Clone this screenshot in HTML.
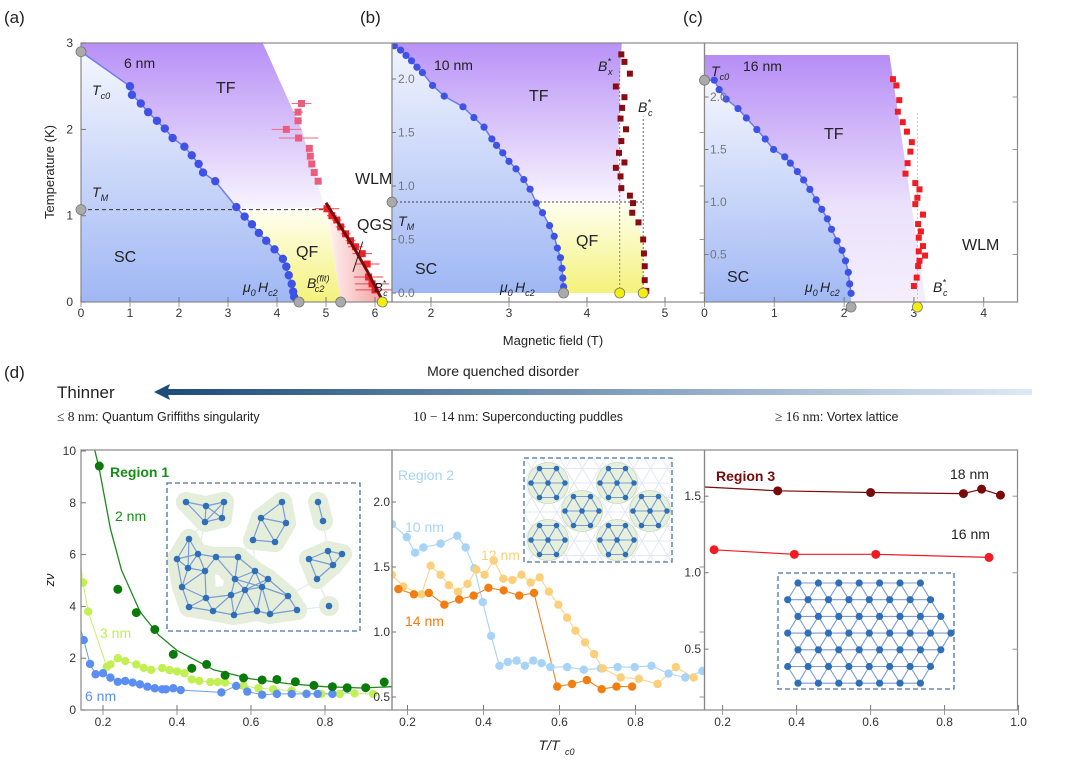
<!DOCTYPE html>
<html><head><meta charset="utf-8"><style>
html,body{margin:0;padding:0;background:#fff;}
svg{display:block;font-family:"Liberation Sans",sans-serif;}
text{font-family:"Liberation Sans",sans-serif;}
</style></head><body>
<svg id="fig" width="1080" height="772" viewBox="0 0 1080 772" xmlns="http://www.w3.org/2000/svg">
<defs>
<linearGradient id="gPurple" x1="0" y1="0" x2="0" y2="1"><stop offset="0" stop-color="#b68df6"/><stop offset="1" stop-color="#f8f5fe"/></linearGradient>
<linearGradient id="gPurpleC" x1="0" y1="0" x2="0" y2="1"><stop offset="0" stop-color="#b68df6"/><stop offset="0.6" stop-color="#ebe1fc"/><stop offset="1" stop-color="#f5effc"/></linearGradient>
<linearGradient id="gBlue" x1="0" y1="0" x2="0" y2="1"><stop offset="0" stop-color="#f4f6fe"/><stop offset="1" stop-color="#9fb7f4"/></linearGradient>
<linearGradient id="gYellow" x1="0" y1="0" x2="0" y2="1"><stop offset="0" stop-color="#fffff2"/><stop offset="1" stop-color="#f4f27a"/></linearGradient>
<linearGradient id="gPink" x1="0" y1="0" x2="1" y2="0"><stop offset="0" stop-color="#fff4f4"/><stop offset="1" stop-color="#f39c9c"/></linearGradient>
<linearGradient id="gArrow" x1="0" y1="0" x2="1" y2="0"><stop offset="0" stop-color="#1e4c78"/><stop offset="1" stop-color="#dde9f6"/></linearGradient>
<clipPath id="clipA"><rect x="81" y="43" width="311" height="259"/></clipPath>
<clipPath id="clipB"><rect x="392" y="43" width="312.5" height="259"/></clipPath>
<clipPath id="clipC"><rect x="704.5" y="43" width="313" height="259"/></clipPath>
<clipPath id="clipD1"><rect x="81" y="450" width="311" height="260"/></clipPath>
<clipPath id="clipD2"><rect x="392" y="450" width="312.5" height="260"/></clipPath>
<clipPath id="clipD3"><rect x="704.5" y="450" width="313" height="260"/></clipPath>
<clipPath id="clipIns2"><rect x="524" y="458" width="148" height="104"/></clipPath>
</defs>
</svg>
<script>
// ===== Panel (a) 6 nm data =====
const aBlueB=[1.0,1.04,1.22,1.37,1.55,1.71,1.87,2.11,2.26,2.40,2.49,2.74,3.17,3.34,3.49,3.63,3.78,3.95,4.12,4.19,4.24,4.30,4.33,4.35];
const aBlueT=[2.5,2.40,2.30,2.20,2.10,2.01,1.90,1.80,1.70,1.60,1.50,1.40,1.10,0.99,0.90,0.80,0.71,0.61,0.50,0.41,0.31,0.21,0.12,0.06];
const aRedUpB=[4.5,4.43,4.43,4.19,4.44,4.66,4.68,4.71,4.76,4.84];
const aRedUpT=[2.3,2.2,2.1,2.0,1.9,1.78,1.69,1.6,1.5,1.4];
const aRedUpErr=[0.2,0.1,0.08,0.3,0.4,0,0,0,0,0];
const aRedLoB=[5.02,5.12,5.22,5.3,5.4,5.5,5.6,5.74,5.84,5.87,5.94,6.0];
const aRedLoT=[1.08,1.0,0.95,0.87,0.79,0.71,0.64,0.56,0.44,0.29,0.21,0.14];
const aRedLoErr=[0.25,0.1,0.1,0.1,0.1,0.1,0.15,0.2,0.25,0.3,0.35,0.4];
const aQgsB=[5.0,5.3,5.6,5.85,6.05,6.15];
const aQgsT=[1.15,0.87,0.6,0.35,0.13,0.02];
const aTc0=2.9, aTM=1.07, aHc2=4.45, aFit=5.3, aBc=6.15;
const aTicksX=[0,1,2,3,4,5,6], aTicksY=[0,1,2,3];
// ===== Panel (b) 10 nm data =====
const bBlueB=[1.53,1.61,1.68,1.75,1.82,1.89,2.02,2.17,2.41,2.55,2.68,2.78,2.84,2.92,3.0,3.09,3.19,3.27,3.35,3.43,3.52,3.58,3.62,3.66,3.68,3.69,3.70];
const bBlueT=[2.31,2.27,2.22,2.17,2.11,2.06,1.94,1.84,1.74,1.64,1.55,1.44,1.38,1.31,1.23,1.16,1.06,0.97,0.84,0.75,0.63,0.53,0.42,0.33,0.23,0.14,0.06];
const bRedB=[4.44,4.48,4.55,4.37,4.48,4.45,4.43,4.5,4.44,4.41,4.48,4.37,4.43,4.44,4.55,4.59,4.58,4.66,4.72,4.73,4.74,4.74,4.76];
const bRedT=[2.23,2.16,2.05,1.93,1.83,1.73,1.63,1.53,1.42,1.31,1.22,1.17,1.09,0.98,0.91,0.84,0.75,0.66,0.5,0.37,0.25,0.12,0.02];
const bTM=0.85, bHc2=3.7, bBx=4.42, bBc=4.72;
const bTicksX=[2,3,4,5], bTicksY=[0,0.5,1.0,1.5,2.0];
// ===== Panel (c) 16 nm data =====
const cBlueB=[0.14,0.21,0.31,0.48,0.6,0.75,0.87,0.99,1.15,1.23,1.33,1.42,1.51,1.6,1.68,1.76,1.82,1.9,1.97,2.02,2.06,2.08,2.1];
const cBlueT=[2.16,2.07,1.98,1.89,1.8,1.69,1.6,1.5,1.43,1.37,1.29,1.21,1.12,1.02,0.93,0.84,0.74,0.63,0.54,0.44,0.33,0.22,0.13];
const cRedB=[2.7,2.75,2.79,2.77,2.84,2.9,2.97,2.95,2.91,2.88,3.02,3.08,3.05,3.02,3.13,3.06,3.1,3.07,3.13,3.07,3.16,3.08,3.06,3.04,3.0];
const cRedT=[2.17,2.11,1.97,1.86,1.76,1.67,1.57,1.48,1.37,1.27,1.18,1.12,1.04,0.98,0.88,0.79,0.72,0.66,0.58,0.53,0.49,0.44,0.39,0.28,0.2];
const cTc0=2.16, cHc2=2.1, cBc=3.05;
const cTicksX=[0,1,2,3,4], cTicksY=[0.5,1.0,1.5,2.0];
// ===== Panel (d) region 1 =====
const d1G2x=[0.19,0.24,0.29,0.34,0.39,0.44,0.48,0.53,0.58,0.63,0.67,0.72,0.77,0.82,0.86,0.91,0.96];
const d1G2v=[9.42,4.66,3.76,3.11,2.15,1.61,1.76,1.34,1.24,1.16,1.18,1.09,0.95,0.9,0.86,0.86,1.08];
const d1FitX=[0.17,0.19,0.22,0.25,0.30,0.35,0.40,0.50,0.60,0.70,0.80,0.90,0.98];
const d1FitV=[10.5,9.3,7.0,5.4,3.8,2.9,2.3,1.55,1.2,1.02,0.9,0.85,0.9];
const d1G3x=[0.146,0.16,0.21,0.22,0.24,0.26,0.29,0.31,0.33,0.36,0.38,0.40,0.42,0.44,0.46,0.49,0.51,0.53,0.58,0.62,0.66,0.71,0.75,0.79,0.84,0.88,0.93];
const d1G3v=[4.92,3.8,1.67,1.76,2.0,1.89,1.76,1.63,1.55,1.62,1.54,1.49,1.42,1.18,1.12,1.08,1.08,1.06,0.94,0.84,0.80,0.75,0.64,0.62,0.62,0.64,0.62];
const d1B6x=[0.148,0.165,0.18,0.2,0.22,0.24,0.26,0.28,0.30,0.32,0.34,0.36,0.37,0.39,0.41,0.52,0.56,0.59,0.63,0.67,0.71,0.75,0.78,0.82,0.86];
const d1B6v=[2.7,1.78,1.38,1.42,1.25,1.09,1.12,1.06,0.99,0.9,0.84,0.8,0.8,0.84,0.77,0.68,0.93,0.71,0.59,0.62,0.62,0.62,0.62,0.62,0.82];
const d1TicksY=[0,2,4,6,8,10], dTicksX=[0.2,0.4,0.6,0.8];
// ===== Panel (d) region 2 =====
const d2N10x=[0.159,0.198,0.22,0.242,0.287,0.331,0.353,0.376,0.398,0.42,0.442,0.464,0.487,0.509,0.531,0.553,0.576,0.62,0.664,0.709,0.753,0.798,0.842,0.887,0.931,0.976];
const d2N10v=[1.83,1.73,1.61,1.65,1.68,1.74,1.65,1.49,1.23,0.97,0.74,0.77,0.78,0.74,0.78,0.76,0.73,0.73,0.71,0.72,0.73,0.73,0.74,0.68,0.65,0.70];
const d2N12x=[0.159,0.189,0.237,0.261,0.287,0.309,0.333,0.358,0.381,0.403,0.427,0.452,0.476,0.5,0.524,0.548,0.572,0.597,0.62,0.642,0.667,0.691,0.714,0.761,0.809,0.858,0.906,0.953];
const d2N12v=[1.44,1.35,1.29,1.51,1.44,1.36,1.31,1.37,1.48,1.44,1.55,1.41,1.40,1.44,1.38,1.42,1.31,1.21,1.11,1.01,0.92,0.83,0.72,0.65,0.64,0.6,0.73,0.65];
const d2N14x=[0.176,0.217,0.256,0.297,0.336,0.374,0.413,0.453,0.494,0.533,0.594,0.633,0.672,0.711,0.75,0.791];
const d2N14v=[1.33,1.29,1.30,1.21,1.25,1.28,1.34,1.32,1.28,1.30,0.58,0.60,0.63,0.56,0.58,0.58];
const d2TicksY=[0.5,1.0,1.5,2.0];
// ===== Panel (d) region 3 =====
const d3N18x=[0.152,0.349,0.6,0.851,0.9,0.951];
const d3N18v=[1.56,1.535,1.524,1.517,1.546,1.507];
const d3N16x=[0.177,0.394,0.614,0.92];
const d3N16v=[1.15,1.12,1.12,1.10];
const d3TicksY=[0.5,1.0,1.5], d3TicksX=[0.2,0.4,0.6,0.8,1.0];

// ===== scales =====
const xA=b=>81+b*49, yA=t=>302-t*86.3;
const xB=b=>431+(b-2)*78, yB=t=>293-t*107;
const xC=b=>704.5+b*69.8, yC=t=>307-t*105;
const xD1=x=>103+(x-0.2)*370, yD1=v=>710-v*25.9;
const xD2=x=>407.5+(x-0.2)*380, yD2=v=>632-(v-1)*130;
const xD3=x=>722.6+(x-0.2)*370, yD3=v=>572.7-(v-1)*153;

const NS='http://www.w3.org/2000/svg';
const svg=document.getElementById('fig');
function mk(tag,attrs,parent){const e=document.createElementNS(NS,tag);for(const k in attrs)e.setAttribute(k,attrs[k]);(parent||svg).appendChild(e);return e;}
function pts(xs,ys,fx,fy){return xs.map((v,i)=>fx(v).toFixed(1)+','+fy(ys[i]).toFixed(1)).join(' ');}
function grp(name,clip){const g=mk('g',clip?{'clip-path':'url(#'+clip+')'}:{});return g;}
function txt(s,x,y,attrs,parent,name){const t=mk('text',Object.assign({x:x,y:y,'font-size':14,fill:'#222'},attrs||{}),parent);t.textContent=s;return t;}
function sub(parent,main,subs,x,y,size,name,sup){const t=mk('text',{x:x,y:y,'font-size':size,fill:'#222','font-style':'italic'},parent);
  const a=mk('tspan',{},t);a.textContent=main;
  if(sup){const s=mk('tspan',{'font-size':size*0.65,dy:-size*0.45},t);s.textContent=sup;const b=mk('tspan',{'font-size':size*0.65,dx:-size*0.35*sup.length*0.6,dy:size*0.75},t);b.textContent=subs;}
  else{const b=mk('tspan',{'font-size':size*0.65,dy:size*0.3},t);b.textContent=subs;}
  return t;}
function circles(parent,xs,ys,fx,fy,r,fill,name,stroke){xs.forEach((v,i)=>{const c=mk('circle',{cx:fx(v),cy:fy(ys[i]),r:r,fill:fill,stroke:stroke||'none','stroke-width':0.8},parent);});}
function squares(parent,xs,ys,fx,fy,s,fill,name){xs.forEach((v,i)=>{const c=mk('rect',{x:fx(v)-s/2,y:fy(ys[i])-s/2,width:s,height:s,fill:fill},parent);});}
function line(parent,xs,ys,fx,fy,color,w,name){const l=mk('polyline',{points:pts(xs,ys,fx,fy),fill:'none',stroke:color,'stroke-width':w,'stroke-linejoin':'round'},parent);return l;}
function poly(parent,str,fill,name){const p=mk('polygon',{points:str,fill:fill},parent);return p;}
function marker(parent,x,y,fill,name){const c=mk('circle',{cx:x,cy:y,r:5,fill:fill,stroke:'#777','stroke-width':0.8},parent);}
function frame(x0,y0,x1,y1,name){const r=mk('rect',{x:x0,y:y0,width:x1-x0,height:y1-y0,fill:'none',stroke:'#888','stroke-width':1.2});}
function xTicks(vals,fx,y0,y1,labelY,name,fmt){const g=grp(name);vals.forEach(v=>{const x=fx(v);mk('line',{x1:x,y1:y1,x2:x,y2:y1-5,stroke:'#777'},g);mk('line',{x1:x,y1:y0,x2:x,y2:y0+5,stroke:'#999'},g);
  const t=txt(fmt?v.toFixed(1):String(v),x,labelY,{'font-size':12,'text-anchor':'middle',fill:'#333'},g,'x-tick-label');});}
function yTicks(vals,fy,x0,x1,labelX,name,anchor,color,fmtd){const g=grp(name);vals.forEach(v=>{const y=fy(v);mk('line',{x1:x0,y1:y,x2:x0+4,y2:y,stroke:'#777'},g);mk('line',{x1:x1,y1:y,x2:x1-5,y2:y,stroke:'#999'},g);
  txt(fmtd?v.toFixed(1):String(v),labelX,y+4,{'font-size':12,'text-anchor':anchor,fill:color||'#333'},g,'y-tick-label');});}
function range(a){return a.map((_,i)=>i);}

// ================= PANEL A =================
(function(){
  const g=grp('panel-a-6nm','clipA');
  let s='81,302 '+xA(0)+','+yA(aTc0)+' '+pts(aBlueB,aBlueT,xA,yA)+' '+xA(aHc2)+','+yA(0);
  poly(g,s,'url(#gBlue)','sc-region');
  const idx=range(aBlueB).filter(i=>aBlueT[i]>=aTM);
  let tf=xA(0)+','+yA(3.05)+' '+xA(3.67)+','+yA(3.05)+' '+xA(4.5)+','+yA(2)+' '+xA(4.97)+','+yA(1.1)+' '+xA(3.24)+','+yA(aTM)+' ';
  tf+=idx.slice().reverse().map(i=>xA(aBlueB[i])+','+yA(aBlueT[i])).join(' ')+' '+xA(0)+','+yA(aTc0);
  poly(g,tf,'url(#gPurple)','tf-region');
  const idq=range(aBlueB).filter(i=>aBlueT[i]<aTM);
  let qf=xA(3.24)+','+yA(aTM)+' '+xA(5.02)+','+yA(aTM)+' '+xA(aFit)+','+yA(0)+' '+xA(aHc2)+','+yA(0)+' '+idq.slice().reverse().map(i=>xA(aBlueB[i])+','+yA(aBlueT[i])).join(' ');
  poly(g,qf,'url(#gYellow)','qf-region');
  poly(g,xA(5.02)+','+yA(1.1)+' '+xA(6.2)+','+yA(0)+' '+xA(aFit)+','+yA(0),'url(#gPink)','qgs-region');
  const dl=mk('line',{x1:xA(0),y1:yA(aTM),x2:xA(5.1),y2:yA(aTM),stroke:'#333','stroke-dasharray':'4,3','stroke-width':1},g);
  
  line(g,[0].concat(aBlueB),[aTc0].concat(aBlueT),xA,yA,'#6a7cf0',1.5,'hc2-curve');
  circles(g,aBlueB,aBlueT,xA,yA,4.2,'#3e52e6','hc2-point');
  aRedUpB.forEach((b,i)=>{if(aRedUpErr[i]>0){const e=mk('line',{x1:xA(b-aRedUpErr[i]),x2:xA(b+aRedUpErr[i]),y1:yA(aRedUpT[i]),y2:yA(aRedUpT[i]),stroke:'#ef6b86','stroke-width':1},g);}});
  aRedLoB.forEach((b,i)=>{const e=mk('line',{x1:xA(b-aRedLoErr[i]),x2:xA(b+aRedLoErr[i]),y1:yA(aRedLoT[i]),y2:yA(aRedLoT[i]),stroke:'#f04050','stroke-width':1},g);});
  squares(g,aRedUpB,aRedUpT,xA,yA,7,'#ec5c7c','bx-point');
  squares(g,aRedLoB,aRedLoT,xA,yA,7,'#ee1f28','bc-point');
  line(g,aQgsB,aQgsT,xA,yA,'#7a0a0a',3,'qgs-fit-line');
  const ar=mk('line',{x1:xA(5.75),y1:yA(0.7),x2:xA(5.55),y2:yA(0.35),stroke:'#222','stroke-width':1},g);
})();
frame(81,43,392,302,'panel-a-frame');
xTicks(aTicksX,xA,302,302,317,'panel-a-x-ticks');
(function(){const g=grp('panel-a-y-ticks');aTicksY.forEach(v=>{const y=yA(v);mk('line',{x1:81,y1:y,x2:86,y2:y,stroke:'#777'},g);txt(String(v),73,y+4,{'font-size':12,'text-anchor':'end',fill:'#333'},g,'y-tick-label');});})();
(function(){const g=grp('panel-a-markers');
  marker(g,xA(0),yA(aTc0),'#aaa','tc0-marker');marker(g,xA(0),yA(aTM),'#aaa','tm-marker');
  marker(g,xA(aHc2),yA(0),'#aaa','hc2-marker');marker(g,xA(aFit),yA(0),'#aaa','bc2-fit-marker');marker(g,xA(aBc),yA(0),'#f4ee10','bc-marker');
  txt('(a)',4,23,{'font-size':17},g,'panel-a-label');
  txt('6 nm',124,68,{'font-size':14},g,'thickness-label');
  txt('TF',216,93,{'font-size':16},g,'tf-label');
  sub(g,'T','c0',92,95,14,'tc0-label');
  sub(g,'T','M',92,197,14,'tm-label');
  txt('SC',114,262,{'font-size':16},g,'sc-label');
  txt('QF',296,257,{'font-size':16},g,'qf-label');
  sub(g,'μ','0',243,292,14,'hc2-label');
  sub(g,'H','c2',258,292,14,'hc2-label-h');
  sub(g,'B','c2',307,288,14,'bc2-fit-label','(fit)');
  txt('WLM',355,184,{'font-size':16},g,'wlm-label');
  txt('QGS',357,230,{'font-size':16},g,'qgs-label');
  sub(g,'B','c',374,292,13,'bc-star-label','*');
})();
// ================= PANEL B =================
(function(){
  const g=grp('panel-b-10nm','clipB');
  poly(g,xB(1.45)+','+yB(0)+' '+xB(1.45)+','+yB(2.4)+' '+pts(bBlueB,bBlueT,xB,yB)+' '+xB(bHc2)+','+yB(0),'url(#gBlue)','sc-region');
  const idx=range(bBlueB).filter(i=>bBlueT[i]>=bTM);
  let tf=xB(1.5)+','+yB(2.4)+' '+xB(4.45)+','+yB(2.4)+' '+xB(4.42)+','+yB(2.0)+' '+xB(4.4)+','+yB(1.2)+' '+xB(4.5)+','+yB(bTM)+' '+xB(3.32)+','+yB(bTM)+' '+idx.slice().reverse().map(i=>xB(bBlueB[i])+','+yB(bBlueT[i])).join(' ')+' '+xB(1.48)+','+yB(2.36);
  poly(g,tf,'url(#gPurple)','tf-region');
  const idq=range(bBlueB).filter(i=>bBlueT[i]<bTM);
  let qf=xB(3.32)+','+yB(bTM)+' '+xB(4.55)+','+yB(bTM)+' '+xB(bBc)+','+yB(0.5)+' '+xB(bBc)+','+yB(0)+' '+xB(bHc2)+','+yB(0)+' '+idq.slice().reverse().map(i=>xB(bBlueB[i])+','+yB(bBlueT[i])).join(' ');
  poly(g,qf,'url(#gYellow)','qf-region');
  const d1=mk('line',{x1:xB(1.5),y1:yB(bTM),x2:xB(bBc),y2:yB(bTM),stroke:'#444','stroke-dasharray':'2,2','stroke-width':1},g);
  const d2=mk('line',{x1:xB(bBx),y1:yB(0),x2:xB(bBx),y2:yB(2.1),stroke:'#666','stroke-dasharray':'2,2','stroke-width':0.8},g);
  const d3=mk('line',{x1:xB(bBc),y1:yB(0),x2:xB(bBc),y2:yB(1.65),stroke:'#444','stroke-dasharray':'2,2','stroke-width':0.8},g);
  line(g,bBlueB,bBlueT,xB,yB,'#6a7cf0',1.5,'hc2-curve');
  circles(g,bBlueB,bBlueT,xB,yB,3.6,'#3e52e6','hc2-point');
  squares(g,bRedB,bRedT,xB,yB,6,'#8a0c10','bx-point');
})();
frame(392,43,704.5,302,'panel-b-frame');
xTicks(bTicksX,xB,302,302,317,'panel-b-x-ticks');
yTicks(bTicksY,yB,392,704.5,398,'panel-b-y-ticks','start','#777',true);
(function(){const g=grp('panel-b-markers');
  marker(g,xB(1.5),yB(bTM),'#aaa','tm-marker');marker(g,xB(bHc2),yB(0),'#aaa','hc2-marker');
  marker(g,xB(bBx),yB(0),'#f4ee10','bx-marker');marker(g,xB(bBc),yB(0),'#f4ee10','bc-marker');
  txt('(b)',360,23,{'font-size':17},g,'panel-b-label');
  txt('10 nm',434,70,{'font-size':14},g,'thickness-label');
  sub(g,'B','x',598,71,14,'bx-star-label','*');
  txt('TF',529,101,{'font-size':16},g,'tf-label');
  sub(g,'B','c',638,112,14,'bc-star-label','*');
  sub(g,'T','M',398,226,14,'tm-label');
  txt('QF',576,246,{'font-size':16},g,'qf-label');
  txt('SC',415,274,{'font-size':16},g,'sc-label');
  sub(g,'μ','0',500,292,14,'hc2-label');
  sub(g,'H','c2',515,292,14,'hc2-label-h');
})();
// ================= PANEL C =================
(function(){
  const g=grp('panel-c-16nm','clipC');
  poly(g,xC(0)+','+yC(0)+' '+xC(0)+','+yC(cTc0)+' '+pts(cBlueB,cBlueT,xC,yC)+' '+xC(cHc2)+','+yC(0),'url(#gBlue)','sc-region');
  let tf=xC(0)+','+yC(2.4)+' '+xC(2.65)+','+yC(2.4)+' '+xC(3.18)+','+yC(0)+' '+xC(cHc2)+','+yC(0)+' '+range(cBlueB).slice().reverse().map(i=>xC(cBlueB[i])+','+yC(cBlueT[i])).join(' ')+' '+xC(0)+','+yC(cTc0);
  poly(g,tf,'url(#gPurpleC)','tf-region');
  const d=mk('line',{x1:xC(cBc),y1:yC(0),x2:xC(cBc),y2:yC(1.85),stroke:'#bbb','stroke-dasharray':'2,2','stroke-width':0.8},g);
  line(g,[0].concat(cBlueB),[cTc0].concat(cBlueT),xC,yC,'#6a7cf0',1.5,'hc2-curve');
  circles(g,cBlueB,cBlueT,xC,yC,3.6,'#3e52e6','hc2-point');
  squares(g,cRedB,cRedT,xC,yC,6,'#f01c24','bc-point');
})();
frame(704.5,43,1017.5,302,'panel-c-frame');
xTicks(cTicksX,xC,302,302,317,'panel-c-x-ticks');
yTicks(cTicksY,yC,704.5,1017.5,710,'panel-c-y-ticks','start','#777',true);
(function(){const g=grp('panel-c-markers');
  marker(g,xC(0),yC(cTc0),'#aaa','tc0-marker');marker(g,xC(cHc2),yC(0),'#aaa','hc2-marker');marker(g,xC(cBc),yC(0),'#f4ee10','bc-marker');
  txt('(c)',683,23,{'font-size':17},g,'panel-c-label');
  sub(g,'T','c0',711,76,14,'tc0-label');
  txt('16 nm',743,71,{'font-size':14},g,'thickness-label');
  txt('TF',824,139,{'font-size':16},g,'tf-label');
  txt('WLM',962,250,{'font-size':16},g,'wlm-label');
  txt('SC',727,282,{'font-size':16},g,'sc-label');
  sub(g,'μ','0',805,292,14,'hc2-label');
  sub(g,'H','c2',820,292,14,'hc2-label-h');
  sub(g,'B','c',933,292,14,'bc-star-label','*');
})();
(function(){const g=grp('top-axis-titles');
  txt('Temperature (K)',0,0,{'font-size':13,'text-anchor':'middle',transform:'translate(54,172) rotate(-90)'},g,'y-axis-title');
  txt('Magnetic field (T)',553,345,{'font-size':13,'text-anchor':'middle'},g,'x-axis-title');
  txt('(d)',4,378,{'font-size':17},g,'panel-d-label');
  txt('More quenched disorder',503,376,{'font-size':14,'text-anchor':'middle'},g,'arrow-caption');
  txt('Thinner',57,398,{'font-size':17},g,'thinner-label');
  const r=mk('rect',{x:166,y:389,width:866,height:6,fill:'url(#gArrow)'},g);
  const h=mk('polygon',{points:'154,392 170,384 167,392 170,400',fill:'#1e4c78'},g);
  const a=txt('',57,421,{'font-size':12.5},g,'regime-1-text');mk('tspan',{'font-family':'Liberation Serif, serif','font-size':13.5},a).textContent='≤ 8 nm';mk('tspan',{},a).textContent=': Quantum Griffiths singularity';
  const b=txt('',413,421,{'font-size':12.5},g,'regime-2-text');mk('tspan',{'font-family':'Liberation Serif, serif','font-size':13.5},b).textContent='10 − 14 nm';mk('tspan',{},b).textContent=': Superconducting puddles';
  const c=txt('',775,421,{'font-size':12.5},g,'regime-3-text');mk('tspan',{'font-family':'Liberation Serif, serif','font-size':13.5},c).textContent='≥ 16 nm';mk('tspan',{},c).textContent=': Vortex lattice';
})();
// ================= PANEL D1 =================
(function(){
  const g=grp('panel-d1-region1','clipD1');
  const ins=grp('region1-inset');
  const clusters=[[[186,502],[206,506],[224,502],[205,522],[222,518]],[[282,502],[261,518],[286,523],[253,540],[275,542]],[[318,502],[323,521]],[[309,559],[328,551],[342,554],[333,565],[317,579]],
   [[189,539],[177,559],[198,554],[216,557],[238,557],[188,568],[205,571],[182,587],[206,598],[231,595],[235,579],[245,590],[255,571],[262,587],[268,579],[189,607],[213,611],[234,615],[257,611],[270,614],[288,596],[297,610],[329,606]]];
  const all=[].concat(...clusters);
  all.forEach((p,i)=>all.forEach((q,j)=>{if(j>i){const d=Math.hypot(p[0]-q[0],p[1]-q[1]);if(d<34){mk('line',{x1:p[0],y1:p[1],x2:q[0],y2:q[1],stroke:'#dde5f5','stroke-width':1},ins);}}}));
  clusters.forEach(cl=>{cl.forEach((p,i)=>cl.forEach((q,j)=>{if(j>i&&Math.hypot(p[0]-q[0],p[1]-q[1])<30)mk('line',{x1:p[0],y1:p[1],x2:q[0],y2:q[1],stroke:'#e4eedb','stroke-width':20,'stroke-linecap':'round'},ins);}));cl.forEach(p=>mk('circle',{cx:p[0],cy:p[1],r:10,fill:'#e4eedb'},ins));});
  clusters.forEach(cl=>cl.forEach((p,i)=>cl.forEach((q,j)=>{if(j>i&&Math.hypot(p[0]-q[0],p[1]-q[1])<30)mk('line',{x1:p[0],y1:p[1],x2:q[0],y2:q[1],stroke:'#7b9bd6','stroke-width':1.2},ins);})));
  all.forEach(p=>mk('circle',{cx:p[0],cy:p[1],r:3.3,fill:'#2f6fb8'},ins));
  const bx=mk('rect',{x:167,y:483,width:193,height:148,fill:'none',stroke:'#4a72a0','stroke-width':1.3,'stroke-dasharray':'5,3'},ins);
  g.appendChild(ins);
  line(g,d1FitX,d1FitV,xD1,yD1,'#1e8a1e',1.3,'fit-curve-2nm');
  line(g,[0.14].concat(d1G3x),[5.6].concat(d1G3v),xD1,yD1,'#c6f06a',1,'line-3nm');
  line(g,[0.14].concat(d1B6x),[3.1].concat(d1B6v),xD1,yD1,'#6f9cf0',1,'line-6nm');
  circles(g,d1G3x,d1G3v,xD1,yD1,4.2,'#c2ef52','point-3nm');
  circles(g,d1B6x,d1B6v,xD1,yD1,4.2,'#5b8ef0','point-6nm');
  circles(g,d1G2x,d1G2v,xD1,yD1,4.5,'#0a7a0a','point-2nm');
})();
frame(81,450,392,710,'panel-d1-frame');
xTicks(dTicksX,xD1,710,710,726,'panel-d1-x-ticks',true);
(function(){const g=grp('panel-d1-y-ticks');d1TicksY.forEach(v=>{const y=yD1(v);mk('line',{x1:81,y1:y,x2:86,y2:y,stroke:'#777'},g);txt(String(v),76,y+4,{'font-size':12,'text-anchor':'end',fill:'#333'},g,'y-tick-label');});
  txt('zν',0,0,{'font-size':13,'font-style':'italic','text-anchor':'middle',transform:'translate(54,580) rotate(-90)'},g,'y-axis-title');
  txt('Region 1',110,477,{'font-size':14,'font-weight':'bold',fill:'#178c17'},g,'region1-label');
  txt('2 nm',115,521,{'font-size':14,fill:'#178c17'},g,'label-2nm');
  txt('3 nm',100,638,{'font-size':14,fill:'#bfee55'},g,'label-3nm');
  txt('6 nm',85,701,{'font-size':14,fill:'#5b8ef0'},g,'label-6nm');
})();
// ================= PANEL D2 =================
(function(){
  const g=grp('panel-d2-region2','clipD2');
  const ins=grp('region2-inset');
  const bg=grp('region2-inset-grid','clipIns2');
  ins.appendChild(bg);
  for(let r=0;r<8;r++)for(let c=0;c<10;c++){const x=523+c*17+(r%2)*8.5,y=454+r*14.5;mk('line',{x1:x,y1:y,x2:x+17,y2:y,stroke:'#e2e8f5','stroke-width':1},bg);mk('line',{x1:x,y1:y,x2:x+8.5,y2:y+14.5,stroke:'#e2e8f5','stroke-width':1},bg);mk('line',{x1:x,y1:y,x2:x-8.5,y2:y+14.5,stroke:'#e2e8f5','stroke-width':1},bg);}
  const cents=[[548,483],[617,483],[582,511],[650,511],[548,540],[617,540]];
  const hex=[[0,0],[17,0],[-17,0],[8.5,14.5],[-8.5,14.5],[8.5,-14.5],[-8.5,-14.5]];
  cents.forEach(c=>{mk('circle',{cx:c[0],cy:c[1],r:20.5,fill:'#e6f0dc',stroke:'#c5d8b5','stroke-width':0.8},ins);});
  cents.forEach(c=>{const p=hex.map(h=>[c[0]+h[0],c[1]+h[1]]);p.forEach((a,i)=>p.forEach((b,j)=>{if(j>i&&Math.hypot(a[0]-b[0],a[1]-b[1])<18)mk('line',{x1:a[0],y1:a[1],x2:b[0],y2:b[1],stroke:'#7b9bd6','stroke-width':1.1},ins);}));p.forEach(a=>mk('circle',{cx:a[0],cy:a[1],r:2.8,fill:'#2f6fb8'},ins));});
  const bx=mk('rect',{x:524,y:458,width:148,height:104,fill:'none',stroke:'#4a72a0','stroke-width':1.3,'stroke-dasharray':'5,3'},ins);
  g.appendChild(ins);
  line(g,[0.15].concat(d2N10x),[1.86].concat(d2N10v),xD2,yD2,'#a9d4f5',1.1,'line-10nm');
  line(g,[0.15].concat(d2N12x),[1.47].concat(d2N12v),xD2,yD2,'#fbd488',1.1,'line-12nm');
  line(g,d2N14x,d2N14v,xD2,yD2,'#f18422',1.1,'line-14nm');
  circles(g,d2N10x,d2N10v,xD2,yD2,4.2,'#a6d3f6','point-10nm');
  circles(g,d2N12x,d2N12v,xD2,yD2,4.2,'#fbcf7c','point-12nm');
  circles(g,d2N14x,d2N14v,xD2,yD2,4.2,'#f27d10','point-14nm');
})();
frame(392,450,704.5,710,'panel-d2-frame');
xTicks(dTicksX,xD2,710,710,726,'panel-d2-x-ticks',true);
yTicks(d2TicksY,yD2,392,704.5,390,'panel-d2-y-ticks','end','#333',true);
(function(){const g=grp('panel-d2-labels');
  txt('Region 2',398,480,{'font-size':14,fill:'#a6d3f6'},g,'region2-label');
  txt('10 nm',405,532,{'font-size':14,fill:'#a6d3f6'},g,'label-10nm');
  txt('12 nm',481,560,{'font-size':14,fill:'#fbcf7c'},g,'label-12nm');
  txt('14 nm',405,626,{'font-size':14,fill:'#f27d10'},g,'label-14nm');
  txt('T/T',549,750,{'font-size':14,'font-style':'italic','text-anchor':'middle'},g,'x-axis-title');
  txt('c0',565,755,{'font-size':9,'font-style':'italic'},g,'x-axis-title-sub');
})();
// ================= PANEL D3 =================
(function(){
  const g=grp('panel-d3-region3','clipD3');
  const ins=grp('region3-inset');
  const rows=[[7,0],[8,-1],[8,0],[9,-1],[8,0],[8,-1],[7,0]];
  const P=[];rows.forEach((r,ri)=>{const pr=[];for(let k=0;k<r[0];k++){pr.push([798+r[1]*10.3+k*20.4,583+ri*16.7]);}P.push(pr);});
  const flat=[].concat(...P);
  flat.forEach((a,i)=>flat.forEach((b,j)=>{if(j>i&&Math.hypot(a[0]-b[0],a[1]-b[1])<22)mk('line',{x1:a[0],y1:a[1],x2:b[0],y2:b[1],stroke:'#7b9bd6','stroke-width':1.1},ins);}));
  flat.forEach(a=>mk('circle',{cx:a[0],cy:a[1],r:3.6,fill:'#2f6fb8'},ins));
  const bx=mk('rect',{x:778,y:573,width:176,height:116,fill:'none',stroke:'#4a72a0','stroke-width':1.3,'stroke-dasharray':'5,3'},ins);
  g.appendChild(ins);
  line(g,d3N18x,d3N18v,xD3,yD3,'#7a0a0a',1.2,'line-18nm');
  line(g,d3N16x,d3N16v,xD3,yD3,'#f01c24',1.2,'line-16nm');
  circles(g,d3N18x.slice(1),d3N18v.slice(1),xD3,yD3,4.5,'#7a0a0a','point-18nm');
  circles(g,d3N16x,d3N16v,xD3,yD3,4.5,'#f01c24','point-16nm');
})();
frame(704.5,450,1017.5,710,'panel-d3-frame');
xTicks(d3TicksX,xD3,710,710,726,'panel-d3-x-ticks',true);
yTicks(d3TicksY,yD3,704.5,1017.5,701,'panel-d3-y-ticks','end','#333',true);
(function(){const g=grp('panel-d3-labels');
  txt('Region 3',716,481,{'font-size':14,'font-weight':'bold',fill:'#7a0a0a'},g,'region3-label');
  txt('18 nm',950,479,{'font-size':14},g,'label-18nm');
  txt('16 nm',951,539,{'font-size':14},g,'label-16nm');
})();
</script>
</body></html>
